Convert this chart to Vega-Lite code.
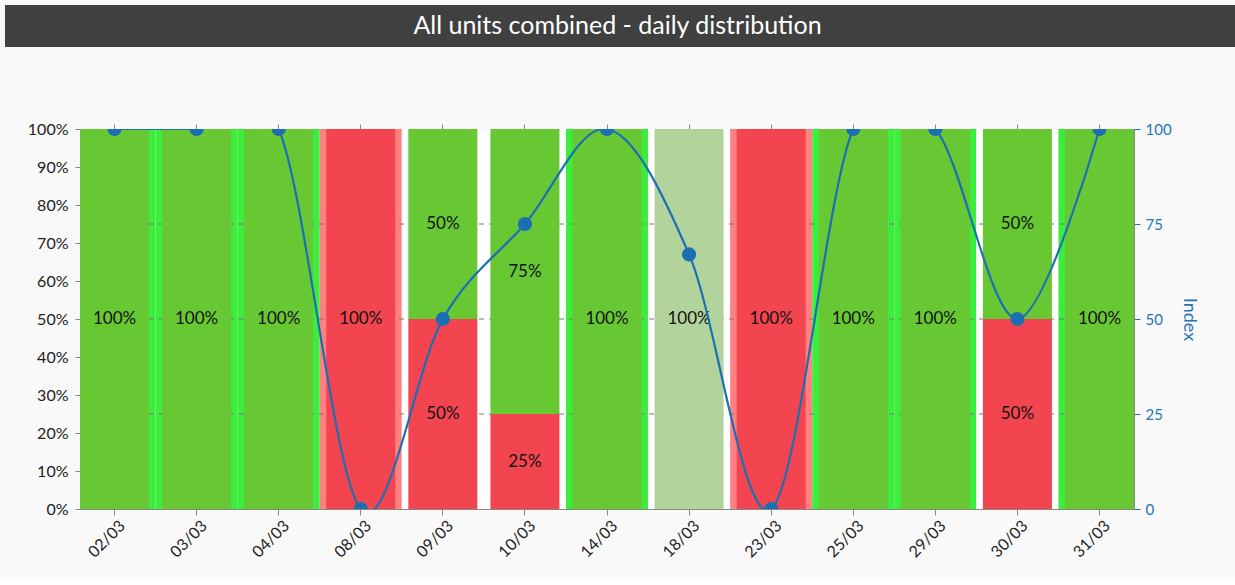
{
  "$schema": "https://vega.github.io/schema/vega-lite/v6.json",
  "background": "#f9f9f9",
  "padding": {"left": 5, "top": 5, "right": 5, "bottom": 18},
  "config": {
    "font": "Lato",
    "view": {"stroke": null},
    "axis": {"labelFont": "Lato", "titleFont": "Lato", "domainColor": "#888888", "tickColor": "#888888", "grid": false}
  },
  "spacing": 74,
  "center": true,
  "bounds": "full",
  "datasets": {
    "header": [{"title": "All units combined - daily distribution"}],
    "segments": [
      {"date": "02/03", "status": "Green", "pct": 1},
      {"date": "03/03", "status": "Green", "pct": 1},
      {"date": "04/03", "status": "Green", "pct": 1},
      {"date": "08/03", "status": "Red", "pct": 1},
      {"date": "09/03", "status": "Red", "pct": 0.5},
      {"date": "09/03", "status": "Green", "pct": 0.5},
      {"date": "10/03", "status": "Red", "pct": 0.25},
      {"date": "10/03", "status": "Green", "pct": 0.75},
      {"date": "14/03", "status": "Green", "pct": 1},
      {"date": "18/03", "status": "Other", "pct": 1},
      {"date": "23/03", "status": "Red", "pct": 1},
      {"date": "25/03", "status": "Green", "pct": 1},
      {"date": "29/03", "status": "Green", "pct": 1},
      {"date": "30/03", "status": "Red", "pct": 0.5},
      {"date": "30/03", "status": "Green", "pct": 0.5},
      {"date": "31/03", "status": "Green", "pct": 1}
    ],
    "days": [
      {"date": "02/03", "index": 100, "halo": "green"},
      {"date": "03/03", "index": 100, "halo": "green"},
      {"date": "04/03", "index": 100, "halo": "green"},
      {"date": "08/03", "index": 0, "halo": "red"},
      {"date": "09/03", "index": 50, "halo": "none"},
      {"date": "10/03", "index": 75, "halo": "none"},
      {"date": "14/03", "index": 100, "halo": "green"},
      {"date": "18/03", "index": 67, "halo": "none"},
      {"date": "23/03", "index": 0, "halo": "red"},
      {"date": "25/03", "index": 100, "halo": "green"},
      {"date": "29/03", "index": 100, "halo": "green"},
      {"date": "30/03", "index": 50, "halo": "none"},
      {"date": "31/03", "index": 100, "halo": "green"}
    ],
    "grid": [{"g": 0.25}, {"g": 0.5}, {"g": 0.75}]
  },
  "vconcat": [
    {
      "width": 1292,
      "height": 42,
      "view": {"fill": "#404040", "stroke": null},
      "data": {"name": "header"},
      "mark": {"type": "text", "color": "#ffffff", "fontSize": 25, "baseline": "middle", "font": "Lato", "dx": -33.5},
      "encoding": {"text": {"field": "title"}}
    },
    {
      "width": 1054,
      "height": 380,
      "layer": [
        {
          "layer": [
            {
              "data": {"name": "days"},
              "mark": {"type": "bar", "clip": true, "width": {"band": 1.1884}},
              "encoding": {
                "x": {"field": "date", "type": "ordinal", "sort": null},
                "fill": {"field": "halo", "type": "nominal", "legend": null,
                         "scale": {"domain": ["green", "red", "none"], "range": ["#3ded3d", "#ff8080", "#ffffff"]}}
              }
            },
            {
              "data": {"name": "grid"},
              "mark": {"type": "rule", "color": "#777777", "strokeDash": [5, 5], "strokeWidth": 1},
              "encoding": {"y": {"field": "g", "type": "quantitative",
                      "axis": {"orient": "left", "tickCount": 10, "format": ".0%", "labelOverlap": false,
                               "title": null, "labelFontSize": 16, "labelColor": "#222222", "tickSize": 5, "labelPadding": 7, "minExtent": 75, "maxExtent": 75}}}
            },
            {
              "data": {"name": "segments"},
              "mark": {"type": "bar"},
              "encoding": {
                "x": {"field": "date", "type": "ordinal", "sort": null,
                      "scale": {"paddingInner": 0.159, "paddingOuter": 0},
                      "axis": {"orient": "bottom", "title": null, "labelAngle": -45, "labelFontSize": 16, "labelColor": "#222222", "tickSize": 6, "labelPadding": 8, "labelOffset": 8}},
                "y": {"field": "pct", "type": "quantitative", "stack": "zero",
                      "scale": {"domain": [0, 1]},
                      "axis": {"orient": "left", "tickCount": 10, "format": ".0%", "labelOverlap": false,
                               "title": null, "labelFontSize": 16, "labelColor": "#222222", "tickSize": 5, "labelPadding": 7, "minExtent": 75, "maxExtent": 75}},
                "color": {"field": "status", "type": "nominal", "legend": null,
                          "scale": {"domain": ["Green", "Red", "Other"], "range": ["#68c834", "#f2454f", "#b3d39d"]}},
                "order": {"field": "status", "sort": "descending"}
              }
            },
            {
              "data": {"name": "segments"},
              "mark": {"type": "text", "fontSize": 17, "color": "#111111", "baseline": "middle"},
              "encoding": {
                "x": {"field": "date", "type": "ordinal", "sort": null},
                "y": {"field": "pct", "type": "quantitative", "stack": "zero", "bandPosition": 0.5},
                "text": {"field": "pct", "type": "quantitative", "format": ".0%"},
                "detail": {"field": "status"},
                "order": {"field": "status", "sort": "descending"}
              }
            }
          ]
        },
        {
          "data": {"name": "days"},
          "layer": [
            {
              "mark": {"type": "line", "interpolate": "cardinal", "clip": true, "color": "#1d6fb3", "strokeWidth": 2.2}
            },
            {
              "mark": {"type": "point", "filled": true, "clip": true, "size": 200, "opacity": 1, "color": "#1d6fb3"}
            }
          ],
          "encoding": {
            "x": {"field": "date", "type": "ordinal", "sort": null,
                  "axis": {"orient": "top", "title": null, "labels": false, "tickSize": 5}},
            "y": {"field": "index", "type": "quantitative", "scale": {"domain": [0, 100]},
                  "axis": {"orient": "right", "values": [0, 25, 50, 75, 100], "title": [" ", "Index"],
                           "labelColor": "#1f74b8", "tickColor": "#1f74b8", "titleColor": "#1f74b8",
                           "labelFontSize": 15, "titleFontSize": 18, "titleLineHeight": 25, "titleFontWeight": "normal", "tickSize": 6, "labelPadding": 5, "titlePadding": 5, "minExtent": 40, "maxExtent": 40}}
          }
        }
      ],
      "resolve": {"scale": {"y": "independent"}, "axis": {"x": "independent"}}
    }
  ]
}
